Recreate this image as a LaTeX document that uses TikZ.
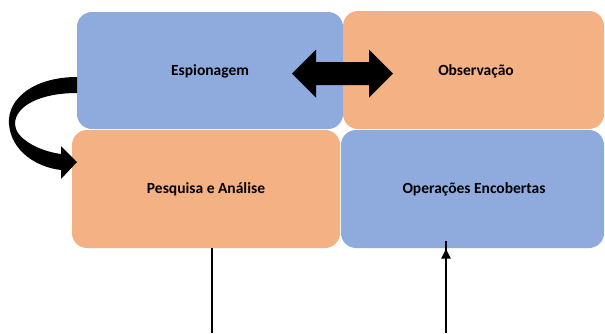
\documentclass[tikz,border=0pt]{standalone}
\usepackage{fontspec}
\setmainfont{Carlito}
\definecolor{boxblue}{HTML}{8FAADC}
\definecolor{boxorange}{HTML}{F4B183}
\begin{document}
\begin{tikzpicture}[x=1pt,y=-1pt,
  card/.style={inner sep=0pt, font=\fontsize{15.5}{18}\selectfont\bfseries},
  cardfill/.style={rounded corners=15pt},
  thinarrow/.style={line width=2.8pt},
]
\useasboundingbox (0,0) rectangle (605,333);
% boxes
\fill[boxblue, cardfill] (77,12) rectangle (343,129);
\node[card] (esp) at (210,71) {Espionagem};
\fill[boxorange, cardfill] (343,11) rectangle (604,129);
\node[card] (obs) at (476,71) {Observação};
\fill[boxorange, cardfill] (72,130) rectangle (340,248);
\node[card] (pa) at (206,189) {Pesquisa e Análise};
\fill[boxblue, cardfill] (341,130) rectangle (604,248);
\node[card] (op) at (474,189) {Operações Encobertas};
\coordinate (pabot) at (212,248);
\coordinate (opbot) at (446,249);
% double arrow
\coordinate (da) at (342.5,73.5);
\fill[black] (da) ++(-50.5,0) -- ++(24,-24) -- ++(0,12.5) -- ++(53,0) -- ++(0,-12.5)
  -- ++(24,24) -- ++(-24,24) -- ++(0,-12.5) -- ++(-53,0) -- ++(0,12.5) -- cycle;
% curved arrow
\coordinate (cs) at (77,77);
\fill[black] (cs) .. controls (35,77) and (7,98) .. (9,124)
  .. controls (11,150) and (35,167) .. (61,170)
  -- (61,179) -- (77,162) -- (61,146) -- (61,154)
  .. controls (38,151) and (15,138) .. (15,124)
  .. controls (15,106) and (40,93) .. (77,93) -- cycle;
% vertical lines
\coordinate (b1) at (212,333);
\coordinate (b2) at (446,333);
\draw[thinarrow] (pabot) -- (b1);
\draw[thinarrow] (b2) -- ([yshift=8pt]opbot);
\fill[black] (opbot) -- ++(-4.8,9.5) -- ++(9.6,0) -- cycle;
\end{tikzpicture}
\end{document}
